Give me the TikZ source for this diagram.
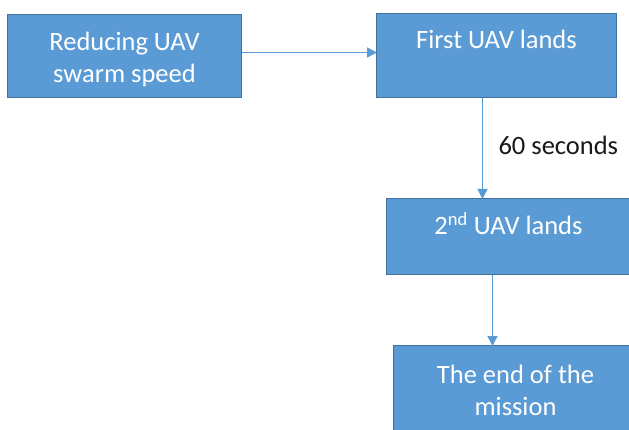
\documentclass[tikz,border=0pt]{standalone}
\usepackage{fontspec}
\setmainfont{Carlito}
\usetikzlibrary{arrows.meta,calc}
\definecolor{boxfill}{HTML}{5B9BD5}
\definecolor{boxline}{HTML}{41719C}
\definecolor{linkcol}{HTML}{5B9BD5}
\tikzset{
  stepbox/.style={draw=boxline, line width=1pt, fill=boxfill, text=white,
    align=center, anchor=north west, inner sep=0pt,
    font=\fontsize{26.5}{32}\selectfont},
  link/.style={draw=linkcol, line width=1.4pt,
    -{Triangle[length=10pt,width=10pt]}, shorten >=-1pt},
  note/.style={font=\fontsize{26.5}{32}\selectfont, text=black!90, anchor=west}
}
\begin{document}
\begin{tikzpicture}[x=1pt,y=-1pt]
  \useasboundingbox (0,0) rectangle (629,430);
  \clip (0,0) rectangle (629,430);
  \node[stepbox, minimum width=234pt, minimum height=83pt] (b1) at (7,14)
    {\rule{0pt}{26pt}Reducing UAV\\swarm speed};
  \node[stepbox, minimum width=240pt, minimum height=84pt] (b2) at (376,13)
    {First UAV lands\\\mbox{}};
  \node[stepbox, minimum width=244pt, minimum height=76pt] (b3) at (386,198)
    {2\textsuperscript{nd} UAV lands\\[-6pt]\mbox{}};
  \node[stepbox, minimum width=244pt, minimum height=90pt] (b4) at (393,345)
    {The end of the\\mission};
  \draw[link] ([yshift=3.5pt]b1.east) -- ([yshift=3.5pt]b1.east -| b2.west);
  \draw[link] ([xshift=-14pt]b2.south) -- ([xshift=-14pt]b2.south |- b3.north)
    node[midway, note, xshift=12pt, yshift=3pt] (t60) {60 seconds};
  \draw[link] ([xshift=-16pt]b3.south) -- ([xshift=-16pt]b3.south |- b4.north);
\end{tikzpicture}
\end{document}
